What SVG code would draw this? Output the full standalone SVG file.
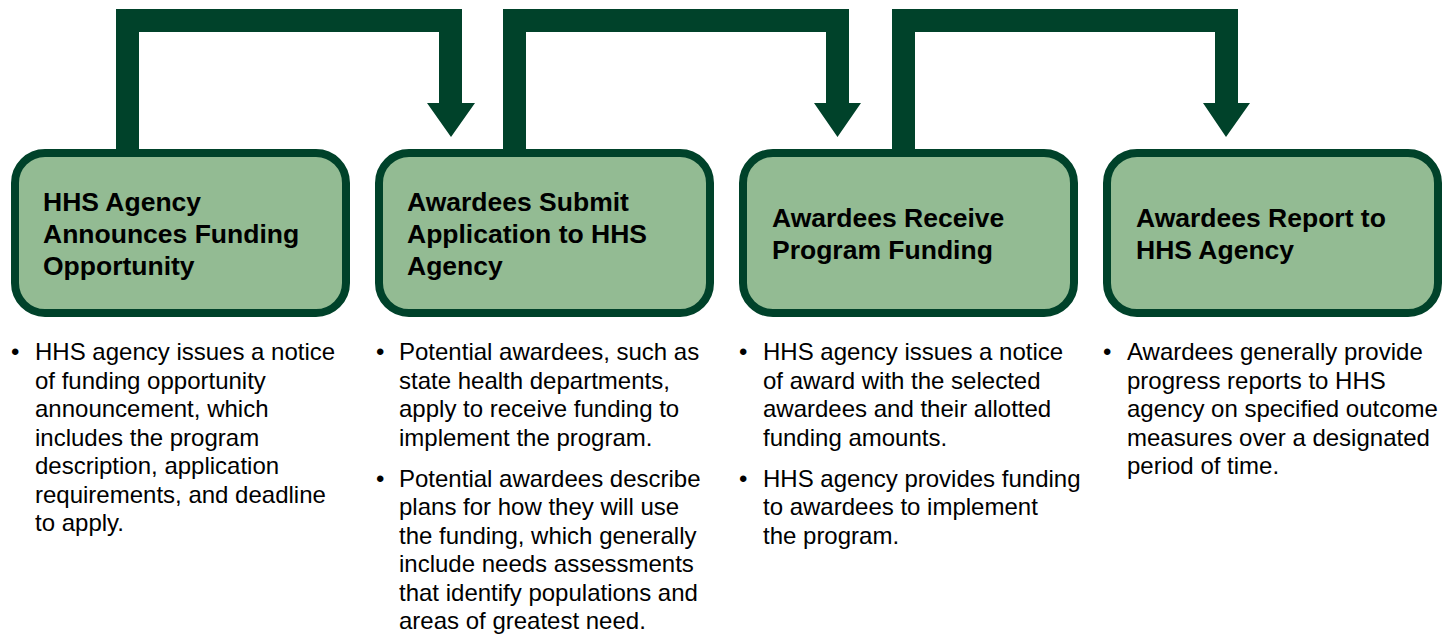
<svg xmlns="http://www.w3.org/2000/svg" width="1450" height="637" viewBox="0 0 1450 637">
<style>
.box{fill:#93bb93;stroke:#00422a;stroke-width:8}
.conn{fill:#00422a}
.title{font-family:"Liberation Sans",Arial,sans-serif;font-weight:bold;font-size:26.5px;fill:#000}
.body{font-family:"Liberation Sans",Arial,sans-serif;font-size:24px;fill:#000}
</style>
<rect width="1450" height="637" fill="#fff"/>
<g id="connectors">
<polygon class="conn" points="116,153 116,9 462,9 462,103 475,103 451,137 427,103 439,103 439,32 139,32 139,153"/>
<polygon class="conn" points="503,153 503,9 849,9 849,103 861,103 837.5,137 814,103 826,103 826,32 526,32 526,153"/>
<polygon class="conn" points="892,153 892,9 1238,9 1238,103 1250,103 1226,137 1203,103 1215,103 1215,32 915,32 915,153"/>
</g>
<g id="node1">
<rect class="box" x="15" y="153" width="331" height="160" rx="30"/>
<text class="title"><tspan x="43" y="210.5">HHS Agency</tspan><tspan x="43" y="242.5">Announces Funding</tspan><tspan x="43" y="274.5">Opportunity</tspan></text>
<text class="body"><tspan x="11" y="360">•</tspan><tspan x="35" y="360">HHS agency issues a notice</tspan><tspan x="35" y="388.5">of funding opportunity</tspan><tspan x="35" y="417">announcement, which</tspan><tspan x="35" y="445.5">includes the program</tspan><tspan x="35" y="474">description, application</tspan><tspan x="35" y="502.5">requirements, and deadline</tspan><tspan x="35" y="531">to apply.</tspan></text>
</g>
<g id="node2">
<rect class="box" x="379" y="153" width="331" height="160" rx="30"/>
<text class="title"><tspan x="407" y="210.5">Awardees Submit</tspan><tspan x="407" y="242.5">Application to HHS</tspan><tspan x="407" y="274.5">Agency</tspan></text>
<text class="body"><tspan x="376" y="360">•</tspan><tspan x="399" y="360">Potential awardees, such as</tspan><tspan x="399" y="388.5">state health departments,</tspan><tspan x="399" y="417">apply to receive funding to</tspan><tspan x="399" y="445.5">implement the program.</tspan><tspan x="376" y="486.5">•</tspan><tspan x="399" y="486.5">Potential awardees describe</tspan><tspan x="399" y="515">plans for how they will use</tspan><tspan x="399" y="543.5">the funding, which generally</tspan><tspan x="399" y="572">include needs assessments</tspan><tspan x="399" y="600.5">that identify populations and</tspan><tspan x="399" y="629">areas of greatest need.</tspan></text>
</g>
<g id="node3">
<rect class="box" x="743" y="153" width="331" height="160" rx="30"/>
<text class="title"><tspan x="772" y="226.5">Awardees Receive</tspan><tspan x="772" y="258.5">Program Funding</tspan></text>
<text class="body"><tspan x="739" y="360">•</tspan><tspan x="763" y="360">HHS agency issues a notice</tspan><tspan x="763" y="388.5">of award with the selected</tspan><tspan x="763" y="417">awardees and their allotted</tspan><tspan x="763" y="445.5">funding amounts.</tspan><tspan x="739" y="486.5">•</tspan><tspan x="763" y="486.5">HHS agency provides funding</tspan><tspan x="763" y="515">to awardees to implement</tspan><tspan x="763" y="543.5">the program.</tspan></text>
</g>
<g id="node4">
<rect class="box" x="1107" y="153" width="331" height="160" rx="30"/>
<text class="title"><tspan x="1136" y="226.5">Awardees Report to</tspan><tspan x="1136" y="258.5">HHS Agency</tspan></text>
<text class="body"><tspan x="1103" y="360">•</tspan><tspan x="1127" y="360">Awardees generally provide</tspan><tspan x="1127" y="388.5">progress reports to HHS</tspan><tspan x="1127" y="417">agency on specified outcome</tspan><tspan x="1127" y="445.5">measures over a designated</tspan><tspan x="1127" y="474">period of time.</tspan></text>
</g>
</svg>
